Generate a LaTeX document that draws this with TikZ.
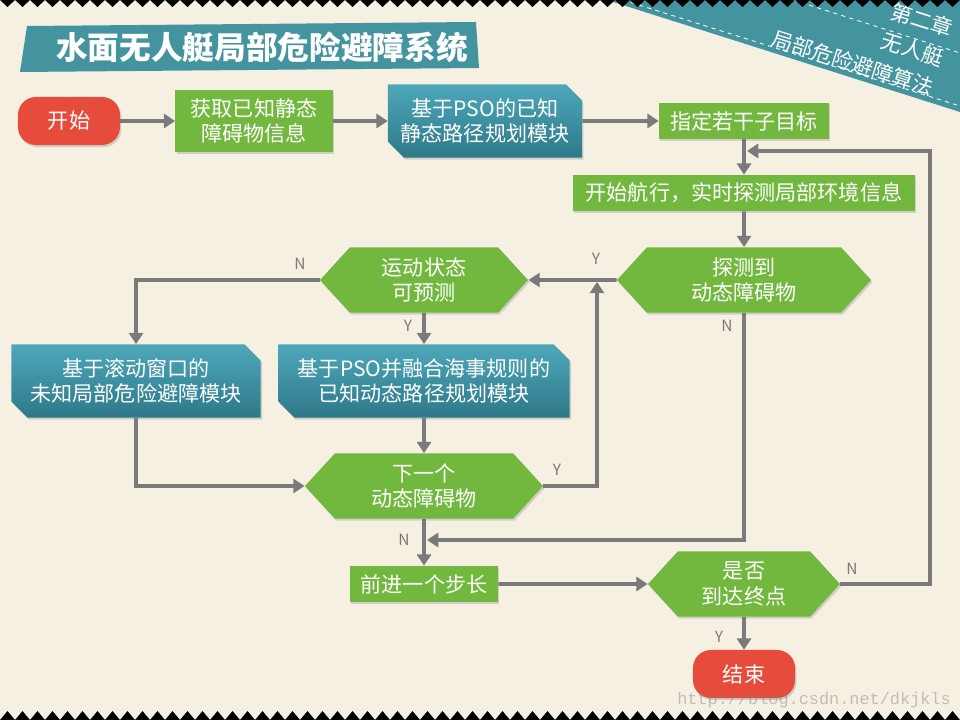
\documentclass[tikz,border=0pt]{standalone}
\usepackage{fontspec}
\setmainfont{Noto Sans CJK SC}
\newfontfamily\urlfont{Liberation Mono}
\usepackage{tikz}
\usetikzlibrary{shapes.misc, shapes.symbols, shadows, arrows.meta}
\definecolor{paper}{HTML}{F5F0E1}
\definecolor{leaf}{HTML}{72B83F}
\definecolor{sea}{HTML}{4494A0}
\definecolor{seatop}{HTML}{4DA8BA}
\definecolor{seabot}{HTML}{2E7888}
\definecolor{tomato}{HTML}{E64B3C}
\definecolor{wire}{HTML}{7A7A7A}
\tikzset{
    x=0.025cm, y=-0.025cm, % one unit per pixel of the slide, y going down
    >={Triangle[length=8pt, width=10pt]}, % big flat arrow heads
    flow/.style={->, draw=wire, line width=2.6pt}, % every connector
    base/.style={text=white, inner sep=0pt, align=center, font=\fontsize{15}{18}\selectfont,
                 drop shadow={opacity=0.3, shadow xshift=1pt, shadow yshift=-1.5pt}},
    greenbox/.style={base, rectangle, fill=leaf}, % plain steps
    terminal/.style={base, rectangle, rounded corners=0.45cm, fill=tomato,
                     minimum width=2.55cm, minimum height=1.2cm}, % start / end
    module/.style={base, chamfered rectangle, chamfered rectangle corners={north east, south west},
                   chamfered rectangle xsep=0.2cm, chamfered rectangle ysep=0.2cm,
                   top color=seatop, bottom color=seabot, minimum height=1.83cm}, % planning modules
    decision/.style={base, signal, signal to=west and east, signal pointer angle=95,
                     fill=leaf, minimum height=1.63cm}, % hexagon tests
    yn/.style={text=wire, font=\fontsize{11}{11}\selectfont}, % Y / N marks
    bandtext/.style={text=white, rotate=-17.5, anchor=east, inner sep=0pt, align=right,
                     font=\fontsize{15}{22}\selectfont}, % corner ribbon
}

\begin{document}
\begin{tikzpicture}
    % background, banners
    \fill[paper] (0,0) rectangle (960,720);
    \useasboundingbox (0,0) rectangle (960,720);
    \fill[sea] (27,26) -- (476,22) -- (479,68) -- (20,72) -- cycle;
    \node[text=white, font=\fontsize{22.5}{22.5}\selectfont\bfseries] (title) at (262,47) {水面无人艇局部危险避障系统};
    \fill[sea] (607,0) -- (960,0) -- (960,112) -- cycle;
    \draw[white, dashed, line width=0.6pt] (623,0) -- (960,106);
    \draw[white, dashed, line width=0.6pt] (793,0) -- (960,53);
    \node[bandtext] (chapter) at (943,59) {第二章\\无人艇\\局部危险避障算法};

    % steps
    \node[terminal] (start) at (69,121) {开始};
    \node[greenbox, minimum width=3.93cm, minimum height=1.55cm] (info) at (254,121) {获取已知静态\\障碍物信息};
    \node[module, minimum width=4.85cm] (static) at (485,121) {基于PSO的已知\\静态路径规划模块};
    \node[greenbox, minimum width=4.25cm, minimum height=0.88cm] (goals) at (744,121) {指定若干子目标};
    \node[greenbox, minimum width=8.55cm, minimum height=0.9cm] (sail) at (744,193) {开始航行，实时探测局部环境信息};
    \node[decision, minimum width=6.35cm] (detect) at (744,280) {探测到\\动态障碍物};
    \node[decision, minimum width=5.2cm] (predict) at (424,280) {运动状态\\可预测};
    \node[module, minimum width=6.23cm] (unknown) at (136,381) {基于滚动窗口的\\未知局部危险避障模块};
    \node[module, minimum width=7.28cm] (known) at (424,381) {基于PSO并融合海事规则的\\已知动态路径规划模块};
    \node[decision, minimum width=5.95cm] (next) at (424,486) {下一个\\动态障碍物};
    \node[greenbox, minimum width=3.7cm, minimum height=0.9cm] (step) at (424,584) {前进一个步长};
    \node[decision, minimum width=4.8cm] (arrive) at (744,584) {是否\\到达终点};
    \node[terminal] (finish) at (744,674) {结束};

    \coordinate (merge) at (597,282);
    \coordinate (joinN) at (427,540);
    \coordinate (loopx) at (930,151);
    \coordinate (loopin) at (747,151);

    % connectors
    \draw[flow] (start) -- (info);
    \draw[flow] (info) -- (static);
    \draw[flow] (static) -- (goals);
    \draw[flow] (goals) -- (sail);
    \draw[flow] (sail) -- (detect);
    \draw[flow] (detect) -- (predict);
    \draw[flow] (predict) -| (unknown);
    \draw[flow] (predict) -- (known);
    \draw[flow] (known) -- (next);
    \draw[flow] (unknown) |- (next);
    \draw[flow] (next) -| (merge);
    \draw[flow] (detect) |- (joinN);
    \draw[flow] (next) -- (step);
    \draw[flow] (step) -- (arrive);
    \draw[flow] (arrive) -| (loopx) -- (loopin);
    \draw[flow] (arrive) -- (finish);

    \node[yn] (n1) at (300,264) {N};
    \node[yn] (y1) at (596,259) {Y};
    \node[yn] (n2) at (727,326) {N};
    \node[yn] (y2) at (408,326) {Y};
    \node[yn] (y3) at (557,470) {Y};
    \node[yn] (n3) at (404,540) {N};
    \node[yn] (n4) at (852,569) {N};
    \node[yn] (y4) at (719,637) {Y};

    \node[text=gray, opacity=0.45, font=\urlfont\fontsize{12}{12}\selectfont] (mark) at (814,700) {http://blog.csdn.net/dkjkls};

    % saw edges
    \foreach \i in {0,...,63}
        \fill[black] (15*\i,0) -- (15*\i+15,0) -- (15*\i+7.5,7) -- cycle;
    \foreach \i in {0,...,63}
        \fill[black] (15*\i,720) -- (15*\i+15,720) -- (15*\i+7.5,711) -- cycle;
\end{tikzpicture}
\end{document}
